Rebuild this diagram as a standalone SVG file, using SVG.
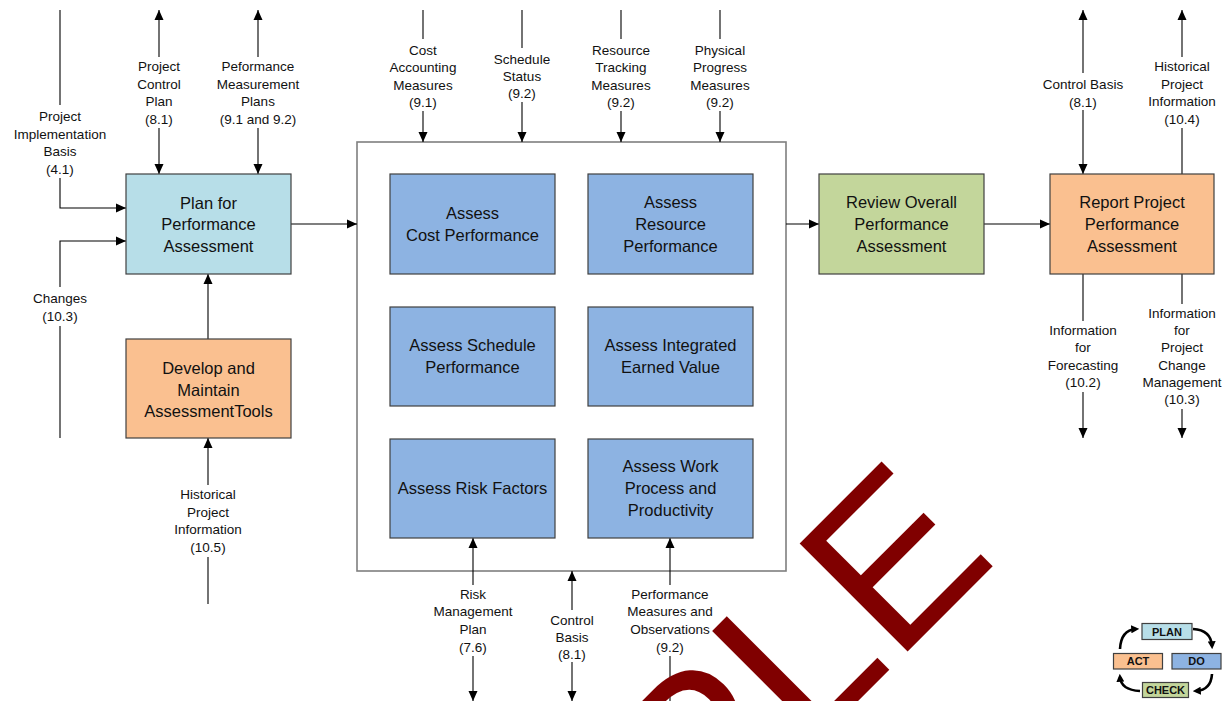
<svg xmlns="http://www.w3.org/2000/svg" width="1227" height="701" viewBox="0 0 1227 701">
<defs>
<style>
.box{stroke:#404040;stroke-width:1.2}
.plan{fill:#B7DEE8}
.act{fill:#FAC090}
.chk{fill:#C3D69B}
.do{fill:#8DB3E2}
.bt{font-family:"Liberation Sans",Arial,sans-serif;font-size:16.5px;fill:#111;text-anchor:middle}
.lb{font-family:"Liberation Sans",Arial,sans-serif;font-size:13.5px;fill:#111;text-anchor:middle}
.lg{font-family:"Liberation Sans",Arial,sans-serif;font-size:11px;font-weight:bold;fill:#111;text-anchor:middle}
.ln{stroke:#000;stroke-width:1.1;fill:none}
.ar{stroke:#000;stroke-width:1.1;fill:none;marker-end:url(#ah)}
.cv{stroke:#000;stroke-width:2.6;fill:none;marker-end:url(#sh)}
</style>
<marker id="ah" viewBox="0 0 10 10" refX="10" refY="5" markerWidth="10" markerHeight="10" markerUnits="userSpaceOnUse" orient="auto">
<path d="M0,0.5 L10,5 L0,9.5 z" fill="#000"/>
</marker>
<marker id="sh" viewBox="0 0 10 10" refX="6" refY="5" markerWidth="8" markerHeight="8" markerUnits="userSpaceOnUse" orient="auto">
<path d="M0,0 L10,5 L0,10 z" fill="#000"/>
</marker>
</defs>
<rect width="1227" height="701" fill="#fff"/>

<g id="container">
<rect x="357" y="142" width="429" height="429" fill="#fff" stroke="#7f7f7f" stroke-width="1.6"/>
</g>

<g id="connectors">
<line class="ln" x1="60" y1="10" x2="60" y2="105"/>
<path class="ar" d="M60,178 V208 H126"/>
<path class="ar" d="M60,287 V241 H126"/>
<line class="ln" x1="60" y1="326" x2="60" y2="438"/>
<line class="ar" x1="159" y1="57" x2="159" y2="10"/>
<line class="ar" x1="159" y1="128" x2="159" y2="174"/>
<line class="ar" x1="258" y1="57" x2="258" y2="10"/>
<line class="ar" x1="258" y1="128" x2="258" y2="174"/>
<line class="ar" x1="208" y1="339" x2="208" y2="274"/>
<line class="ar" x1="208" y1="485" x2="208" y2="438"/>
<line class="ln" x1="208" y1="557" x2="208" y2="604"/>
<line class="ar" x1="291" y1="224" x2="357" y2="224"/>
<line class="ln" x1="423" y1="10" x2="423" y2="39"/>
<line class="ar" x1="423" y1="111" x2="423" y2="142"/>
<line class="ln" x1="522" y1="10" x2="522" y2="48"/>
<line class="ar" x1="522" y1="102" x2="522" y2="142"/>
<line class="ln" x1="621" y1="10" x2="621" y2="39"/>
<line class="ar" x1="621" y1="111" x2="621" y2="142"/>
<line class="ln" x1="720" y1="10" x2="720" y2="39"/>
<line class="ar" x1="720" y1="111" x2="720" y2="142"/>
<line class="ar" x1="786" y1="224" x2="819" y2="224"/>
<line class="ar" x1="984" y1="224" x2="1050" y2="224"/>
<line class="ar" x1="1083" y1="73" x2="1083" y2="10"/>
<line class="ar" x1="1083" y1="110" x2="1083" y2="174"/>
<line class="ar" x1="1182" y1="57" x2="1182" y2="10"/>
<line class="ln" x1="1182" y1="128" x2="1182" y2="174"/>
<line class="ln" x1="1083" y1="274" x2="1083" y2="321"/>
<line class="ar" x1="1083" y1="392" x2="1083" y2="438"/>
<line class="ln" x1="1182" y1="274" x2="1182" y2="304"/>
<line class="ar" x1="1182" y1="409" x2="1182" y2="438"/>
<line class="ar" x1="473" y1="585" x2="473" y2="538"/>
<line class="ar" x1="473" y1="656" x2="473" y2="701"/>
<line class="ar" x1="572" y1="610" x2="572" y2="571"/>
<line class="ar" x1="572" y1="662" x2="572" y2="701"/>
<line class="ar" x1="670" y1="585" x2="670" y2="538"/>
<line class="ln" x1="670" y1="656" x2="670" y2="701"/>
</g>

<g id="labels">
<text class="lb" x="60"><tspan x="60" y="121">Project</tspan><tspan x="60" y="138.5">Implementation</tspan><tspan x="60" y="156">Basis</tspan><tspan x="60" y="173.5">(4.1)</tspan></text>
<text class="lb"><tspan x="60" y="303">Changes</tspan><tspan x="60" y="320.5">(10.3)</tspan></text>
<text class="lb"><tspan x="159" y="71">Project</tspan><tspan x="159" y="88.5">Control</tspan><tspan x="159" y="106">Plan</tspan><tspan x="159" y="123.5">(8.1)</tspan></text>
<text class="lb"><tspan x="258" y="71">Peformance</tspan><tspan x="258" y="88.5">Measurement</tspan><tspan x="258" y="106">Plans</tspan><tspan x="258" y="123.5">(9.1 and 9.2)</tspan></text>
<text class="lb"><tspan x="208" y="499">Historical</tspan><tspan x="208" y="516.5">Project</tspan><tspan x="208" y="534">Information</tspan><tspan x="208" y="551.5">(10.5)</tspan></text>
<text class="lb"><tspan x="423" y="55">Cost</tspan><tspan x="423" y="72.3">Accounting</tspan><tspan x="423" y="89.6">Measures</tspan><tspan x="423" y="107">(9.1)</tspan></text>
<text class="lb"><tspan x="522" y="64">Schedule</tspan><tspan x="522" y="81">Status</tspan><tspan x="522" y="98">(9.2)</tspan></text>
<text class="lb"><tspan x="621" y="55">Resource</tspan><tspan x="621" y="72.3">Tracking</tspan><tspan x="621" y="89.6">Measures</tspan><tspan x="621" y="107">(9.2)</tspan></text>
<text class="lb"><tspan x="720" y="55">Physical</tspan><tspan x="720" y="72.3">Progress</tspan><tspan x="720" y="89.6">Measures</tspan><tspan x="720" y="107">(9.2)</tspan></text>
<text class="lb"><tspan x="1083" y="89">Control Basis</tspan><tspan x="1083" y="106.5">(8.1)</tspan></text>
<text class="lb"><tspan x="1182" y="71">Historical</tspan><tspan x="1182" y="88.5">Project</tspan><tspan x="1182" y="106">Information</tspan><tspan x="1182" y="123.5">(10.4)</tspan></text>
<text class="lb"><tspan x="1083" y="334.5">Information</tspan><tspan x="1083" y="352">for</tspan><tspan x="1083" y="369.5">Forecasting</tspan><tspan x="1083" y="387">(10.2)</tspan></text>
<text class="lb"><tspan x="1182" y="317.7">Information</tspan><tspan x="1182" y="335">for</tspan><tspan x="1182" y="352.3">Project</tspan><tspan x="1182" y="369.6">Change</tspan><tspan x="1182" y="386.9">Management</tspan><tspan x="1182" y="404.2">(10.3)</tspan></text>
<text class="lb"><tspan x="473" y="598.5">Risk</tspan><tspan x="473" y="616">Management</tspan><tspan x="473" y="633.5">Plan</tspan><tspan x="473" y="651.5">(7.6)</tspan></text>
<text class="lb"><tspan x="572" y="624.5">Control</tspan><tspan x="572" y="642">Basis</tspan><tspan x="572" y="659">(8.1)</tspan></text>
<text class="lb"><tspan x="670" y="598.5">Performance</tspan><tspan x="670" y="616">Measures and</tspan><tspan x="670" y="633.5">Observations</tspan><tspan x="670" y="651.5">(9.2)</tspan></text>
</g>

<g id="plan-assessment">
<rect class="box plan" x="126" y="174" width="165" height="100"/>
<text class="bt"><tspan x="208.5" y="208.5">Plan for</tspan><tspan x="208.5" y="230">Performance</tspan><tspan x="208.5" y="252">Assessment</tspan></text>
</g>
<g id="develop-tools">
<rect class="box act" x="126" y="339" width="165" height="99"/>
<text class="bt"><tspan x="208.5" y="374">Develop and</tspan><tspan x="208.5" y="395.5">Maintain</tspan><tspan x="208.5" y="417">AssessmentTools</tspan></text>
</g>
<g id="assess-cost">
<rect class="box do" x="390" y="174" width="165" height="100"/>
<text class="bt"><tspan x="472.5" y="219">Assess</tspan><tspan x="472.5" y="241">Cost Performance</tspan></text>
</g>
<g id="assess-resource">
<rect class="box do" x="588" y="174" width="165" height="100"/>
<text class="bt"><tspan x="670.5" y="208">Assess</tspan><tspan x="670.5" y="230">Resource</tspan><tspan x="670.5" y="252">Performance</tspan></text>
</g>
<g id="assess-schedule">
<rect class="box do" x="390" y="307" width="165" height="99"/>
<text class="bt"><tspan x="472.5" y="351">Assess Schedule</tspan><tspan x="472.5" y="373">Performance</tspan></text>
</g>
<g id="assess-ev">
<rect class="box do" x="588" y="307" width="165" height="99"/>
<text class="bt"><tspan x="670.5" y="351">Assess Integrated</tspan><tspan x="670.5" y="373">Earned Value</tspan></text>
</g>
<g id="assess-risk">
<rect class="box do" x="390" y="439" width="165" height="99"/>
<text class="bt" x="472.5" y="494">Assess Risk Factors</text>
</g>
<g id="assess-work">
<rect class="box do" x="588" y="439" width="165" height="99"/>
<text class="bt"><tspan x="670.5" y="471.5">Assess Work</tspan><tspan x="670.5" y="494">Process and</tspan><tspan x="670.5" y="516">Productivity</tspan></text>
</g>
<g id="review">
<rect class="box chk" x="819" y="174" width="165" height="100"/>
<text class="bt"><tspan x="901.5" y="208">Review Overall</tspan><tspan x="901.5" y="230">Performance</tspan><tspan x="901.5" y="252">Assessment</tspan></text>
</g>
<g id="report">
<rect class="box act" x="1050" y="174" width="164" height="100"/>
<text class="bt"><tspan x="1132" y="208">Report Project</tspan><tspan x="1132" y="230">Performance</tspan><tspan x="1132" y="252">Assessment</tspan></text>
</g>

<g id="legend">
<path class="cv" d="M1193,629 Q1211,630 1212,646"/>
<path class="cv" d="M1212,674 Q1211,690 1196,691"/>
<path class="cv" d="M1140,691 Q1121,690 1120,677"/>
<path class="cv" d="M1120,649 Q1121,630 1136,629"/>
<rect class="box plan" x="1142" y="623.5" width="50" height="16" stroke-width="1"/>
<text class="lg" x="1167" y="635.5">PLAN</text>
<rect class="box do" x="1172" y="653.5" width="49" height="15.5" stroke-width="1"/>
<text class="lg" x="1196.5" y="665.3">DO</text>
<rect class="box act" x="1113.5" y="653.5" width="49" height="15.5" stroke-width="1"/>
<text class="lg" x="1138" y="665.3">ACT</text>
<rect class="box chk" x="1142.5" y="682.5" width="46" height="15" stroke-width="1"/>
<text class="lg" x="1165.5" y="694">CHECK</text>
</g>

<g id="watermark">
<text transform="translate(362.5,1196.5) rotate(-45)" x="0" y="0" font-family="Liberation Sans, Arial, sans-serif" font-size="222" fill="#800000">SAMPLE</text>
</g>
</svg>
